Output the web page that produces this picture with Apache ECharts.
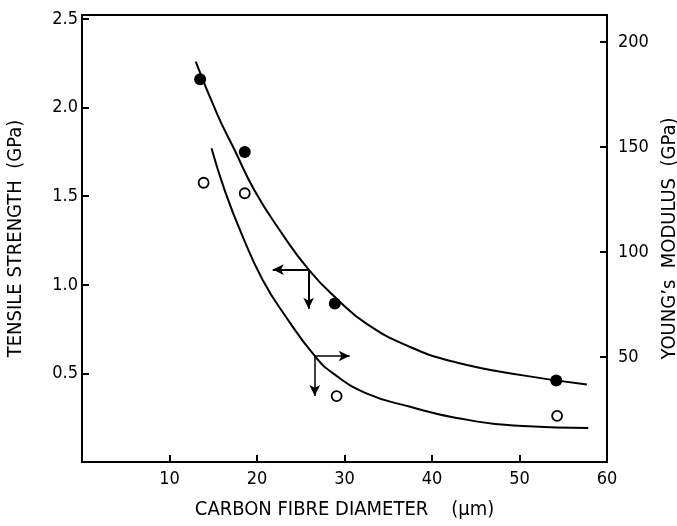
<!DOCTYPE html>
<html>
<head>
<meta charset="utf-8">
<script src="https://cdn.jsdelivr.net/npm/echarts@6/dist/echarts.min.js"></script>
<style>
  html, body { margin: 0; padding: 0; background: #fff; }
  #main { width: 677px; height: 526px; }
</style>
</head>
<body>
<div id="main"></div>
<script>
// measured points, tensile strength (left axis, GPa) - filled circles
const tensileDiameter = [13.5, 18.6, 28.9, 54.2];
const tensileValue = [2.16, 1.75, 0.895, 0.46];
// Young's modulus (right axis, GPa) - open circles
const modulusDiameter = [13.9, 18.6, 29.1, 54.3];
const modulusValue = [133, 128, 31.4, 22];

// fitted curves
const tensileCurveX = [13.0, 15.5, 17.4, 19.7, 22.6, 25.9, 29.1, 32.5, 37.5, 42.8, 50.4, 57.7];
const tensileCurveY = [2.26, 1.958, 1.765, 1.534, 1.308, 1.086, 0.922, 0.781, 0.649, 0.562, 0.489, 0.438];
const modulusCurveX = [14.8, 16.3, 18.2, 20.65, 23.3, 26.6, 28.7, 32.5, 37.5, 42.8, 50.4, 57.85];
const modulusCurveY = [149.4, 129.5, 109, 86.7, 69.2, 50.5, 42.2, 32.7, 26.3, 21.0, 17.1, 16.2];

// arrows showing which curve belongs to which axis: [corner, end1, end2]
const tensileArrow = [[25.9, 1.086], [21.8, 1.086], [25.9, 0.865]];
const modulusArrow = [[26.6, 50.5], [30.6, 50.5], [26.6, 31.4]];

const font = "'DejaVu Sans Condensed', 'Liberation Sans Narrow', 'DejaVu Sans', sans-serif";

function zip(xs, ys) {
    return xs.map((x, i) => [x, ys[i]]);
}

function arrowLines(a) {
    return [
        [{ coord: a[0] }, { coord: a[1] }],
        [{ coord: a[0] }, { coord: a[2] }]
    ];
}

let myChart = echarts.init(document.getElementById('main'));

const axisCommon = {
    axisLine: { show: true, lineStyle: { color: '#000', width: 2 } },
    axisTick: { show: true, inside: true, length: 7, lineStyle: { color: '#000', width: 2 } },
    splitLine: { show: false },
    nameTextStyle: { color: '#000', fontFamily: font, fontSize: 20 }
};

myChart.setOption({
    animation: false,
    grid: {
        left: 82, right: 70, top: 15, bottom: 64,
        containLabel: false, outerBoundsMode: 'none',
        show: true, borderColor: '#000', borderWidth: 2
    },
    xAxis: Object.assign({}, axisCommon, {
        type: 'value',
        min: 0, max: 60, interval: 10,
        name: 'CARBON FIBRE DIAMETER    (μm)',
        nameLocation: 'middle', nameGap: 38,
        axisLabel: { color: '#000', fontFamily: font, fontSize: 18, margin: 8, showMinLabel: false }
    }),
    yAxis: [
        Object.assign({}, axisCommon, {
            type: 'value',
            min: 0, max: 2.523, interval: 0.5,
            name: 'TENSILE STRENGTH  (GPa)',
            nameLocation: 'middle', nameGap: 56,
            axisLabel: {
                color: '#000', fontFamily: font, fontSize: 18, margin: 4,
                showMinLabel: false, showMaxLabel: false,
                formatter: v => v.toFixed(1)
            }
        }),
        Object.assign({}, axisCommon, {
            type: 'value', position: 'right',
            min: 0, max: 212.9, interval: 50,
            name: 'YOUNG\u2019s  MODULUS  (GPa)',
            nameLocation: 'middle', nameGap: 50,
            axisLabel: {
                color: '#000', fontFamily: font, fontSize: 18, margin: 11,
                showMinLabel: false, showMaxLabel: false
            }
        })
    ],
    series: [
        {
            type: 'line', yAxisIndex: 0, smooth: 0.5, showSymbol: false,
            lineStyle: { color: '#000', width: 2 },
            data: zip(tensileCurveX, tensileCurveY),
            markLine: {
                silent: true, symbol: ['none', 'arrow'], symbolSize: [8, 11],
                label: { show: false },
                lineStyle: { color: '#000', width: 2, type: 'solid' },
                data: arrowLines(tensileArrow)
            }
        },
        {
            type: 'line', yAxisIndex: 1, smooth: 0.5, showSymbol: false,
            lineStyle: { color: '#000', width: 2 },
            data: zip(modulusCurveX, modulusCurveY),
            markLine: {
                silent: true, symbol: ['none', 'arrow'], symbolSize: [8, 11],
                label: { show: false },
                lineStyle: { color: '#000', width: 1.5, type: 'solid' },
                data: arrowLines(modulusArrow)
            }
        },
        {
            type: 'scatter', yAxisIndex: 0, symbol: 'circle', symbolSize: 12,
            itemStyle: { color: '#000', opacity: 1 },
            data: zip(tensileDiameter, tensileValue)
        },
        {
            type: 'scatter', yAxisIndex: 1, symbol: 'circle', symbolSize: 10,
            itemStyle: { color: '#fff', borderColor: '#000', borderWidth: 1.8, opacity: 1 },
            data: zip(modulusDiameter, modulusValue)
        }
    ]
});
</script>
</body>
</html>
